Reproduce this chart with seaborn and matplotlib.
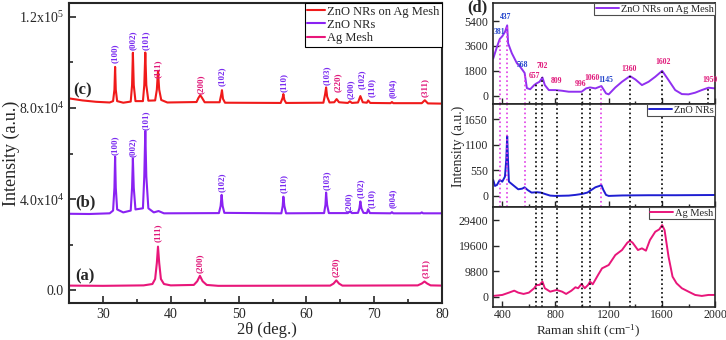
import numpy as np
import pandas as pd
import matplotlib
matplotlib.use("Agg")
import matplotlib.pyplot as plt
import seaborn as sns

# ---- XRD data (2theta, intensity) ----
c_x = [25.0, 27.0, 29.0, 31.0, 31.5, 31.7, 31.8, 31.9, 32.1, 33.0, 34.1, 34.3, 34.42, 34.55, 34.8,
       35.9, 36.1, 36.25, 36.4, 36.7, 37.7, 37.95, 38.12, 38.3, 38.6, 39.5, 43.8, 44.1, 44.35, 44.6,
       45.0, 47.2, 47.45, 47.55, 47.7, 48.0, 56.2, 56.5, 56.6, 56.75, 57.0, 62.5, 62.75, 62.9, 63.05,
       63.4, 64.1, 64.45, 64.8, 66.1, 66.4, 66.7, 67.6, 67.95, 68.3, 68.9, 69.1, 69.4, 72.4, 72.6,
       72.8, 77.0, 77.45, 77.9, 80.0]
c_y = [84200, 83300, 82700, 82400, 83000, 88000, 98000, 88000, 83000, 82300, 82800, 90000, 104200, 90000, 83000,
       83000, 90000, 104300, 90000, 83200, 83300, 88000, 96300, 88000, 83500, 82400, 82600, 84500, 85600, 84500,
       82500, 82500, 86000, 87800, 84000, 82300, 82200, 84500, 86100, 83500, 82200, 82300, 86000, 89000, 85000,
       82400, 82500, 83900, 82500, 82200, 82900, 82200, 82400, 85200, 82500, 82300, 83300, 82200, 82100, 82600,
       82100, 82100, 83400, 82000, 81900]

b_x = [25.0, 28.0, 31.0, 31.5, 31.7, 31.8, 31.9, 32.1, 33.0, 34.1, 34.3, 34.42, 34.55, 34.8, 35.9,
       36.1, 36.25, 36.4, 36.7, 37.5, 38.2, 39.0, 47.1, 47.35, 47.5, 47.65, 47.9, 56.3, 56.5, 56.6,
       56.75, 57.0, 62.6, 62.8, 62.9, 63.05, 63.3, 66.1, 66.4, 66.7, 67.6, 67.8, 67.95, 68.1, 68.4,
       68.9, 69.1, 69.35, 72.4, 72.6, 72.8, 76.8, 77.0, 77.2, 80.0]
b_y = [33600, 33500, 33800, 35000, 45000, 58600, 45000, 35500, 34200, 35000, 45000, 57900, 45000, 35500, 36000,
       50000, 69900, 50000, 36000, 34200, 34800, 33800, 33900, 37000, 41900, 37000, 34000, 33800, 37000, 41100,
       37000, 33800, 33900, 37500, 42900, 37500, 33900, 33900, 34600, 33900, 34000, 36000, 39000, 36000, 34000,
       33900, 35600, 33900, 33800, 34300, 33800, 33800, 34200, 33800, 33800]

a_x = [25.0, 30.0, 36.0, 37.3, 37.7, 37.95, 38.12, 38.3, 38.55, 39.0, 40.0, 43.4, 43.9, 44.3, 44.7,
       45.3, 47.0, 63.5, 64.0, 64.4, 64.8, 65.3, 76.4, 77.0, 77.4, 77.8, 78.3, 80.0]
a_y = [2100, 2000, 2200, 2800, 5000, 12000, 19200, 12000, 5000, 2800, 2200, 2400, 4000, 6400, 4000,
       2400, 2000, 2100, 3000, 4400, 3000, 2100, 2200, 3000, 3900, 3000, 2200, 2100]

# hkl labels: (2theta, label bottom, text, phase)
c_lab_x = [31.8, 34.4, 36.3, 38.1, 44.4, 47.6, 56.7, 63.0, 64.6, 66.6, 68.1, 69.6, 72.7, 77.4]
c_lab_y = [99600, 105300, 105300, 93100, 86100, 89600, 87000, 90000, 87000, 83900, 88300, 84800, 84300, 84800]
c_lab_t = ["(100)", "(002)", "(101)", "(111)", "(200)", "(102)", "(110)", "(103)", "(220)", "(200)",
           "(102)", "(110)", "(004)", "(311)"]
c_lab_p = ["z", "z", "z", "a", "a", "z", "z", "z", "a", "z", "z", "z", "z", "a"]

b_lab_x = [31.8, 34.4, 36.3, 47.6, 56.7, 63.0, 66.3, 68.0, 69.6, 72.7]
b_lab_y = [59400, 58500, 70300, 43200, 42800, 44100, 34400, 40600, 36200, 36200]
b_lab_t = ["(100)", "(002)", "(101)", "(102)", "(110)", "(103)", "(200)", "(102)", "(110)", "(004)"]

a_lab_x = [38.1, 44.3, 64.4, 77.6]
a_lab_y = [21300, 7700, 6000, 5600]
a_lab_t = ["(111)", "(200)", "(220)", "(311)"]

# ---- Raman data ----
top_x = [332, 360, 381, 400, 420, 437, 444, 472, 510, 535, 568, 585, 610, 640, 657, 680, 702, 720, 750,
         800, 850, 900, 950, 996, 1030, 1060, 1100, 1145, 1180, 1200, 1250, 1300, 1360, 1400, 1450,
         1500, 1550, 1602, 1650, 1700, 1750, 1800, 1850, 1900, 1950, 2000]
top_y = [2690, 3530, 4100, 4300, 4610, 5090, 3790, 3070, 2350, 2090, 1650, 550, 470, 770, 890, 1010, 1320,
         770, 410, 410, 360, 290, 290, 290, 530, 600, 530, 700, 170, 100, 600, 1010, 1420, 1180, 770,
         1010, 1370, 1800, 1130, 410, 120, 100, 220, 410, 580, 530]

mid_x = [332, 345, 360, 381, 400, 420, 430, 437, 443, 450, 480, 520, 550, 568, 590, 620, 660, 690, 720,
         760, 800, 900, 950, 1000, 1040, 1070, 1100, 1130, 1145, 1160, 1180, 1200, 1300, 1500, 1700, 2000]
mid_y = [344, 215, 236, 344, 307, 415, 773, 1290, 773, 307, 236, 143, 157, 186, 129, 72, 80, 72, 43,
         7, 0, 7, 22, 43, 72, 129, 186, 215, 236, 129, 22, 0, 10, 15, 15, 20]

bot_x = [332, 400, 450, 490, 520, 560, 600, 640, 657, 680, 702, 720, 760, 809, 850, 880, 920, 950, 970,
         996, 1020, 1045, 1060, 1080, 1120, 1150, 1200, 1250, 1300, 1340, 1360, 1380, 1420, 1450, 1480,
         1510, 1550, 1580, 1602, 1620, 1650, 1680, 1710, 1750, 1800, 1850, 1900, 1950, 2000]
bot_y = [270, 650, 1540, 2300, 1540, 1040, 1540, 3230, 4500, 4500, 5770, 3230, 1920, 2570, 1920, 1040,
         2300, 3610, 3230, 4880, 3230, 4500, 5770, 4750, 8340, 10900, 12180, 16020, 17950, 20750, 21520,
         20750, 17950, 18600, 17700, 21790, 24980, 25900, 27560, 25630, 15370, 7690, 5150, 3230, 1920,
         650, 270, 650, 650]

# Raman peak markers
blue_pk = [381, 437, 568, 1145]
blue_pk_lx = [377, 427, 550, 1180]
blue_pk_ly = [4590, 5670, 2210, 1130]
blue_pk_top = [4100, 5090, 1650, 700]
pink_pk = [657, 702, 809, 996, 1060, 1360, 1602, 1950]
pink_pk_lx = [640, 700, 809, 985, 1075, 1352, 1605, 1965]
pink_pk_ly = [1420, 2140, 1060, 840, 1270, 1920, 2430, 1130]
pink_pk_top = [890, 1320, 410, 290, 600, 1420, 1800, 580]

RED = "#F01A1A"
VIOLET = "#8A22F2"
PINK = "#E8167A"
R_VIOLET = "#9030F0"
R_BLUE = "#1E1ED2"
LAB_Z = "#7A2BF0"
LAB_A = "#E0187A"
LAB_B = "#2244CC"
LINE_M = "#E03CE6"

sns.set_style("ticks")
plt.rcParams["font.family"] = ["Liberation Serif", "DejaVu Serif"]
plt.rcParams["mathtext.fontset"] = "custom"
plt.rcParams["mathtext.rm"] = "Liberation Serif"
plt.rcParams["mathtext.it"] = "Liberation Serif:italic"
plt.rcParams["mathtext.bf"] = "Liberation Serif:bold"

fig = plt.figure(figsize=(7.26, 3.4), dpi=100)

# ---------------- left: XRD ----------------
ax = fig.add_axes([0.095, 0.109, 0.514, 0.882])
sns.lineplot(x=c_x, y=c_y, ax=ax, color=RED, lw=1.5, label="ZnO NRs on Ag Mesh")
sns.lineplot(x=b_x, y=b_y, ax=ax, color=VIOLET, lw=1.5, label="ZnO NRs")
sns.lineplot(x=a_x, y=a_y, ax=ax, color=PINK, lw=1.5, label="Ag Mesh")

for x, y, t, p in zip(c_lab_x, c_lab_y, c_lab_t, c_lab_p):
    ax.text(x, y, t, rotation=90, ha="center", va="bottom", fontsize=6.5, fontweight="bold",
            color=LAB_Z if p == "z" else LAB_A)
for x, y, t in zip(b_lab_x, b_lab_y, b_lab_t):
    ax.text(x, y, t, rotation=90, ha="center", va="bottom", fontsize=6.5, fontweight="bold", color=LAB_Z)
for x, y, t in zip(a_lab_x, a_lab_y, a_lab_t):
    ax.text(x, y, t, rotation=90, ha="center", va="bottom", fontsize=6.5, fontweight="bold", color=LAB_A)

ax.text(25.6, 87800, "(c)", fontsize=12, fontweight="bold", va="center")
ax.text(25.9, 38400, "(b)", fontsize=12, fontweight="bold", va="center")
ax.text(25.9, 6000, "(a)", fontsize=12, fontweight="bold", va="center")

ax.set_xlim(25, 80)
ax.set_ylim(-5500, 126000)
ax.set_xticks([30, 40, 50, 60, 70, 80])
ax.set_xticks([35, 45, 55, 65, 75], minor=True)
ax.set_yticks([0, 40000, 80000, 120000])
ax.set_yticklabels(["0.0", r"4.0x10$^4$", r"8.0x10$^4$", r"1.2x10$^5$"])
ax.set_yticks([20000, 60000, 100000], minor=True)
ax.tick_params(which="both", direction="in", labelsize=10, width=1.2)
ax.tick_params(which="major", length=5)
ax.tick_params(which="minor", length=3)
ax.set_xlabel("2\u03b8 (deg.)", fontsize=12)
ax.xaxis.set_label_coords(0.53, -0.062)
ax.set_ylabel("")
fig.text(0.015, 0.55, "Intensity (a.u.)", rotation=90, fontsize=13, ha="center", va="center")
for s in ax.spines.values():
    s.set_linewidth(1.5)
    s.set_visible(True)
leg = ax.legend(loc="upper right", fontsize=9, frameon=True, fancybox=False, edgecolor="black",
                framealpha=1, borderaxespad=0, handlelength=1.4, handletextpad=0.2,
                labelspacing=0.1, borderpad=0.2)
leg.get_frame().set_linewidth(0.8)

# ---------------- right: Raman ----------------
axt = fig.add_axes([0.679, 0.694, 0.306, 0.297])
axm = fig.add_axes([0.679, 0.391, 0.306, 0.303], sharex=axt)
axb = fig.add_axes([0.679, 0.097, 0.306, 0.294], sharex=axt)

sns.lineplot(x=top_x, y=top_y, ax=axt, color=R_VIOLET, lw=1.4, label="ZnO NRs on Ag Mesh")
sns.lineplot(x=mid_x, y=mid_y, ax=axm, color=R_BLUE, lw=1.4, label="ZnO NRs")
sns.lineplot(x=bot_x, y=bot_y, ax=axb, color=PINK, lw=1.4, label="Ag Mesh")

axt.set_ylim(-600, 6700)
axm.set_ylim(-240, 1980)
axb.set_ylim(-4000, 34500)
axt.set_xlim(330, 2000)

# dotted markers
axt.vlines(blue_pk, -600, blue_pk_top, colors=LINE_M, linestyles=":", lw=1.2)
axt.vlines(pink_pk, -600, pink_pk_top, colors="black", linestyles=":", lw=1.2)
axm.vlines(blue_pk, -240, 1980, colors=LINE_M, linestyles=":", lw=1.2)
axm.vlines(pink_pk[:-1], -240, 1980, colors="black", linestyles=":", lw=1.2)
axb.vlines(pink_pk[:-1], -4000, 34500, colors="black", linestyles=":", lw=1.2)

for x, y, p in zip(blue_pk_lx, blue_pk_ly, blue_pk):
    axt.text(x, y, str(p), fontsize=5.5, fontweight="bold", color=LAB_B, ha="center", va="center")
for x, y, p in zip(pink_pk_lx, pink_pk_ly, pink_pk):
    axt.text(x, y, str(p), fontsize=5.5, fontweight="bold", color=LAB_A, ha="center", va="center")

axt.set_yticks([0, 1800, 3600, 5400])
axm.set_yticks([0, 550, 1100, 1650])
axb.set_yticks([0, 9800, 19600, 29400])
axb.set_xticks([400, 800, 1200, 1600, 2000])
axb.set_xticks([600, 1000, 1400, 1800], minor=True)

for a in (axt, axm, axb):
    a.tick_params(which="both", direction="in", labelsize=8.5, width=1.0)
    a.tick_params(which="major", length=4)
    a.tick_params(which="minor", length=2.5)
    a.set_ylabel("")
    a.set_xlabel("")
    for s in a.spines.values():
        s.set_linewidth(1.2)
        s.set_visible(True)
    lg = a.legend(loc="upper right", fontsize=7.5, frameon=True, fancybox=False, edgecolor="0.3",
                  framealpha=1, borderaxespad=0, handlelength=2.2, handletextpad=0.2, borderpad=0.15)
    lg.get_frame().set_linewidth(0.8)
axt.tick_params(labelbottom=False)
axm.tick_params(labelbottom=False)
axb.tick_params(axis="x", which="major", pad=1.5)

axb.set_xlabel("Raman shift (cm$^{-1}$)", fontsize=9.5)
axb.xaxis.set_label_coords(0.43, -0.155)
fig.text(0.631, 0.57, "Intensity (a.u.)", rotation=90, fontsize=10, ha="center", va="center")
fig.text(0.657, 0.977, "(d)", fontsize=12, fontweight="bold", ha="center", va="center")

fig.savefig("out.png", dpi=100)
